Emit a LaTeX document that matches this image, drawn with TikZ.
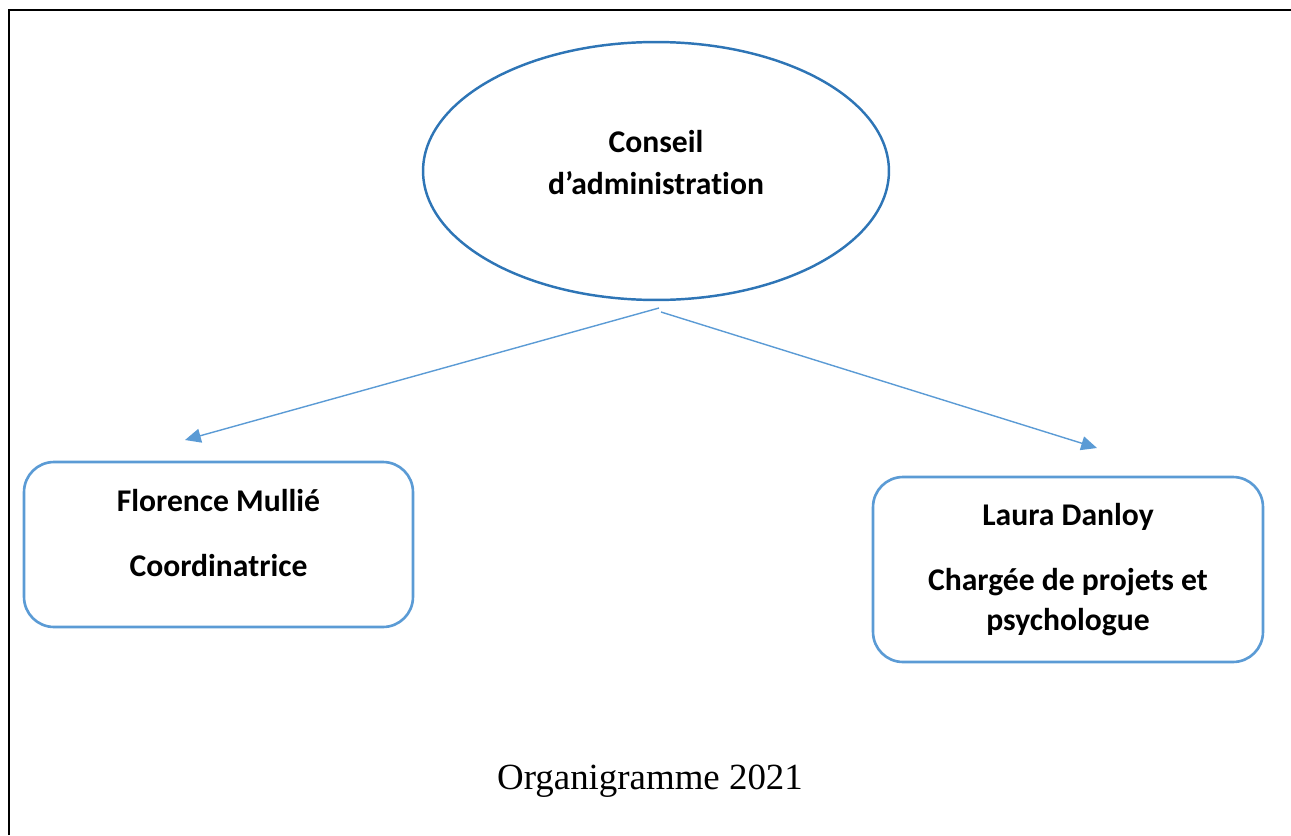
\documentclass[tikz,border=0pt]{standalone}
\usepackage{fontspec}
\setmainfont{Liberation Serif}
\newfontfamily\calibri[Ligatures=NoCommon]{Carlito}
\usetikzlibrary{shapes.geometric,arrows.meta}

\definecolor{bleuC}{HTML}{2E75B6}
\definecolor{bleuL}{HTML}{5B9BD5}

\begin{document}
\begin{tikzpicture}[x=0.02cm,y=-0.02cm]

      \useasboundingbox (0,0) rectangle (1291,835);
      \draw[line width=1.7pt] (9,835) -- (9,10) -- (1291,10);

      \begin{scope}[every node/.style={align=center,font=\calibri\bfseries\fontsize{18}{24}\selectfont}]
        \node (ca) at (656,171) [draw=bleuC,line width=1.4pt,ellipse,text depth=10pt,
          minimum width=9.32cm,minimum height=5.16cm] {Conseil\\d’administration};
      \end{scope}

      \begin{scope}[every node/.style={draw=bleuL,line width=1.5pt,rounded corners=0.6cm,
          align=center,font=\calibri\bfseries\fontsize{18}{22.7}\selectfont}]
        \node (fm) at (218.5,544.5) [minimum width=7.78cm,minimum height=3.3cm,text depth=13pt] {Florence Mullié\\[14pt]Coordinatrice};
        \node (ld) at (1068,569.5) [minimum width=7.8cm,minimum height=3.7cm] {Laura Danloy\\[14pt]Chargée de projets et\\psychologue};
      \end{scope}

      \node (titre) at (650,781) {\fontsize{21}{25}\selectfont Organigramme 2021};

      \coordinate (ca-g) at (659,308);
      \coordinate (ca-d) at (661,312);
      \coordinate (fm-h) at (185,440);
      \coordinate (ld-h) at (1097,448);

      \begin{scope}[every path/.style={draw=bleuL,line width=0.8pt,-{Triangle[length=9pt,width=8pt]}}]
        \path (ca-g) -- (fm-h);
        \path (ca-d) -- (ld-h);
      \end{scope}

    \end{tikzpicture}
\end{document}
